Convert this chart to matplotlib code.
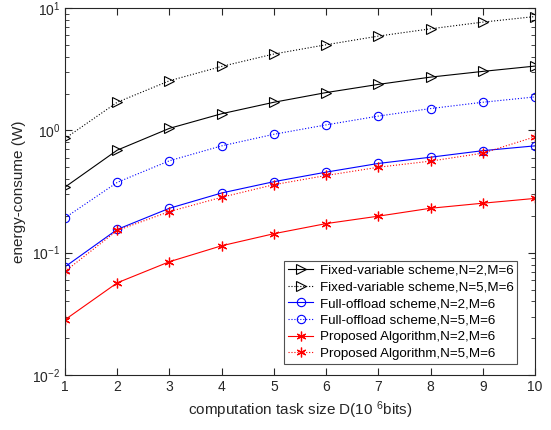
import matplotlib
matplotlib.use("Agg")
import matplotlib.pyplot as plt
from matplotlib.ticker import LogLocator, NullFormatter

plt.rcParams['font.family'] = ['Liberation Sans', 'DejaVu Sans']
plt.rcParams['mathtext.fontset'] = 'custom'
plt.rcParams['mathtext.rm'] = 'Liberation Sans'
plt.rcParams['mathtext.it'] = 'Liberation Sans'

x = [1, 2, 3, 4, 5, 6, 7, 8, 9, 10]
fixed_n2 = [0.344, 0.69, 1.04, 1.37, 1.70, 2.04, 2.38, 2.73, 3.04, 3.36]
fixed_n5 = [0.86, 1.70, 2.55, 3.34, 4.22, 5.02, 5.91, 6.78, 7.69, 8.54]
full_n2 = [0.0767, 0.155, 0.231, 0.308, 0.381, 0.456, 0.537, 0.604, 0.683, 0.748]
full_n5 = [0.193, 0.376, 0.565, 0.748, 0.93, 1.11, 1.31, 1.51, 1.70, 1.88]
prop_n2 = [0.0283, 0.0567, 0.0844, 0.114, 0.143, 0.173, 0.199, 0.231, 0.254, 0.278]
prop_n5 = [0.0703, 0.152, 0.217, 0.284, 0.36, 0.428, 0.50, 0.561, 0.652, 0.887]
labels = ['Fixed-variable scheme,N=2,M=6', 'Fixed-variable scheme,N=5,M=6',
          'Full-offload scheme,N=2,M=6', 'Full-offload scheme,N=5,M=6',
          'Proposed Algorithm,N=2,M=6', 'Proposed Algorithm,N=5,M=6']

fig = plt.figure(figsize=(5.51, 4.30), dpi=100)
ax = fig.add_axes([0.118, 0.128, 0.853, 0.853])

ax.plot(x, fixed_n2, '-', color='black', marker='>', ms=7, mfc='none', mew=0.8, lw=0.8, label=labels[0])
ax.plot(x, fixed_n5, ':', color='black', marker='>', ms=7, mfc='none', mew=0.8, lw=0.8, label=labels[1])
ax.plot(x, full_n2, '-', color='blue', marker='o', ms=6, mfc='none', mew=0.8, lw=0.8, label=labels[2])
ax.plot(x, full_n5, ':', color='blue', marker='o', ms=6, mfc='none', mew=0.8, lw=0.8, label=labels[3])
ax.plot(x, prop_n2, '-', color='red', marker=(6, 2, 0), ms=7, mew=0.9, lw=0.8, label=labels[4])
ax.plot(x, prop_n5, ':', color='red', marker=(6, 2, 0), ms=7, mew=0.9, lw=0.8, label=labels[5])

ax.set_yscale('log')
ax.set_xlim(1, 10)
ax.set_ylim(1e-2, 1e1)
ax.set_xticks(x)
ax.yaxis.set_major_locator(LogLocator(base=10, numticks=10))
ax.yaxis.set_minor_locator(LogLocator(base=10, subs=range(2, 10), numticks=20))
ax.yaxis.set_minor_formatter(NullFormatter())

axc = '#262626'
for s in ax.spines.values():
    s.set_color(axc)
    s.set_linewidth(0.8)
ax.tick_params(which='both', direction='in', top=True, right=True, colors=axc, labelcolor='#262626', labelsize=10)
ax.tick_params(which='major', length=5)
ax.tick_params(which='minor', length=3)

ax.set_xlabel('computation task size D(10 $^{6}$bits)', fontsize=11, color='#262626')
ax.set_ylabel('energy-consume (W)', fontsize=11, color='#262626')

leg = ax.legend(loc='lower left', bbox_to_anchor=(0.466, 0.030, 0.496, 0.302), mode='expand',
                fontsize=9.6, frameon=True, fancybox=False, edgecolor=axc, borderaxespad=0,
                handlelength=1.9, labelspacing=0.32, handletextpad=0.5, borderpad=0.3)
leg.get_frame().set_linewidth(0.8)

fig.savefig('out.png', dpi=100)
